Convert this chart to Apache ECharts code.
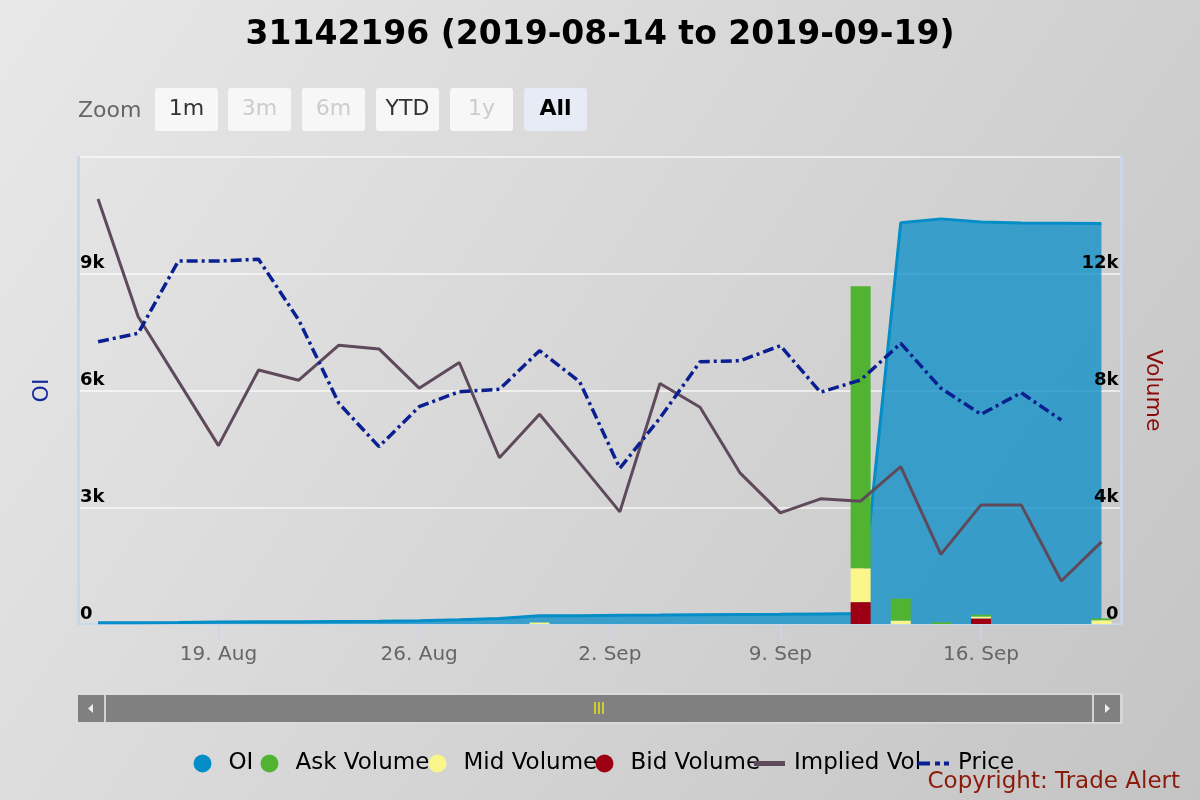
<!DOCTYPE html>
<html>
<head>
<meta charset="utf-8">
<script src="https://cdn.jsdelivr.net/npm/echarts@6/dist/echarts.min.js"></script>
<style>html,body{margin:0;padding:0;}#c{width:1200px;height:800px;}</style>
</head>
<body>
<div id="c"></div>
<script>
// ---- data ----
const dates = ['2019-08-14','2019-08-15','2019-08-16','2019-08-19','2019-08-20','2019-08-21','2019-08-22','2019-08-23',
  '2019-08-26','2019-08-27','2019-08-28','2019-08-29','2019-08-30','2019-09-03','2019-09-04','2019-09-05','2019-09-06',
  '2019-09-09','2019-09-10','2019-09-11','2019-09-12','2019-09-13','2019-09-16','2019-09-17','2019-09-18','2019-09-19'];
const oi = [30,35,40,50,55,60,65,70,85,110,140,210,215,225,230,240,245,250,260,270,10310,10410,10330,10305,10300,10290];
const askVolume = [0,0,0,0,0,0,0,0,0,0,0,0,0,0,0,0,0,0,0,9660,750,60,60,0,0,60];
const midVolume = [0,0,0,0,0,0,0,0,0,0,0,50,0,0,0,0,0,0,0,1160,120,0,70,0,0,130];
const bidVolume = [0,0,0,0,0,0,0,0,0,0,0,0,0,0,0,0,0,0,0,750,0,0,190,0,0,0];
const impliedVol = [91.0,65.8,52.0,38.2,54.4,52.2,59.7,58.9,50.5,56.0,35.6,44.9,34.5,24.0,51.5,46.4,32.3,23.8,26.8,26.3,33.7,14.9,25.5,25.5,9.2,17.6];
const price = [24.18,24.90,31.09,31.09,31.24,26.04,18.90,15.19,18.61,19.90,20.10,23.41,20.75,13.34,17.64,22.47,22.55,23.84,19.85,20.90,24.04,20.19,17.96,19.81,17.47];
// positions (in trading-day index) of the date ticks; 2 Sep falls between 30 Aug and 3 Sep
const tickValues = [3, 8, 12.75, 17, 22];
const tickLabels = ['19. Aug','26. Aug','2. Sep','9. Sep','16. Sep'];
const oiTicks = {min:0, max:12000, interval:3000};
const volTicks = {min:0, max:16000, interval:4000};

const kfmt = v => v === 0 ? '0' : (v/1000) + 'k';
const FONT = 'DejaVu Sans';

const chart = echarts.init(document.getElementById('c'), null, {renderer:'canvas'});

function legendItem(name, left, top, w, h, icon, padLeft){
  return {data:[{name:name, icon:icon}], left:left, top:top, itemWidth:w, itemHeight:h, itemGap:0, padding:0,
    selectedMode:false, textStyle:{fontSize:23, color:'#000', fontFamily:FONT, padding:[0,0,0,padLeft||0]}};
}

const buttons = [['1m',155,'#f7f7f7','#333','normal'],['3m',228,'#f7f7f7','#cccccc','normal'],['6m',302,'#f7f7f7','#cccccc','normal'],
  ['YTD',376,'#f7f7f7','#333','normal'],['1y',450,'#f7f7f7','#cccccc','normal'],['All',524,'#e6ebf5','#000','bold']];
const graphics = [
  {type:'text', left:78, top:100, style:{text:'Zoom', fill:'#666', font:'22px '+FONT}}
];
buttons.forEach(b=>{
  graphics.push({type:'rect', shape:{x:b[1], y:88, width:63, height:43, r:3}, style:{fill:b[2]}});
  graphics.push({type:'text', x:b[1]+31.5, y:109.5, style:{text:b[0], fill:b[3], font:b[4]+' 22px '+FONT, align:'center', verticalAlign:'middle', textAlign:'center', textVerticalAlign:'middle'}});
});
graphics.push(
  {type:'rect', shape:{x:77, y:694, width:1045, height:29}, style:{fill:'#d2d2d2', stroke:'#e2e2e2', lineWidth:1}},
  {type:'rect', shape:{x:78, y:695, width:26, height:27}, style:{fill:'#808080'}},
  {type:'rect', shape:{x:106, y:695, width:986, height:27}, style:{fill:'#808080'}},
  {type:'rect', shape:{x:1094, y:695, width:26, height:27}, style:{fill:'#808080'}},
  {type:'polygon', shape:{points:[[88,708.5],[93,704],[93,713]]}, style:{fill:'#eeeeee'}},
  {type:'polygon', shape:{points:[[1110,708.5],[1105,704],[1105,713]]}, style:{fill:'#eeeeee'}},
  {type:'line', shape:{x1:595,y1:702,x2:595,y2:714}, style:{stroke:'#ffff00', lineWidth:1.2}},
  {type:'line', shape:{x1:599,y1:702,x2:599,y2:714}, style:{stroke:'#ffff00', lineWidth:1.2}},
  {type:'line', shape:{x1:603,y1:702,x2:603,y2:714}, style:{stroke:'#ffff00', lineWidth:1.2}},
  {type:'text', right:20, top:771, style:{text:'Copyright: Trade Alert', fill:'#8b1a0a', font:'23px '+FONT}}
);

const priceIcon = 'path://M0,0h12v4h-12z M17,0h5v4h-5z M26,0h5v4h-5z';

const option = {
  animation:false,
  backgroundColor:{type:'linear', x:0, y:0, x2:1, y2:1, colorStops:[{offset:0,color:'#e8e8e8'},{offset:1,color:'#c4c4c4'}]},
  title:{text:'31142196 (2019-08-14 to 2019-09-19)', left:'center', top:19, padding:0,
    textStyle:{fontFamily:FONT, fontSize:33, fontWeight:'bold', color:'#000'}},
  legend:[
    legendItem('OI',193.5,752,42,18,'circle'), legendItem('Ask Volume',260.5,752,42,18,'circle'),
    legendItem('Mid Volume',428.5,752,42,18,'circle'), legendItem('Bid Volume',595.5,752,42,18,'circle'),
    legendItem('Implied Vol',754,752,31,5,'rect',4), legendItem('Price',918,752,31,4,priceIcon,4)
  ],
  grid:{left:78, right:78.5, top:157, bottom:176, containLabel:false},
  xAxis:[
    {type:'category', data:dates, boundaryGap:true, position:'bottom',
      axisLine:{show:true, onZero:false, lineStyle:{color:'#ccd6eb', width:2}},
      axisTick:{show:false}, axisLabel:{show:false}, splitLine:{show:false}},
    {type:'value', min:-0.5, max:25.5, position:'bottom',
      axisLine:{show:false, onZero:false},
      axisTick:{show:true, customValues:tickValues, length:17, lineStyle:{color:'#ccd6eb', width:1.5}},
      axisLabel:{customValues:tickValues, formatter:v=>tickLabels[tickValues.indexOf(v)] || '', color:'#666', fontSize:20, fontFamily:FONT, margin:21},
      splitLine:{show:false}}
  ],
  yAxis:[
    {type:'value', position:'left', min:oiTicks.min, max:oiTicks.max, interval:oiTicks.interval,
      name:'OI', nameLocation:'middle', nameGap:25, nameRotate:90,
      nameTextStyle:{color:'#14299a', fontSize:22, fontFamily:FONT},
      axisLine:{show:true, onZero:false, lineStyle:{color:'#ccd6eb', width:3}},
      axisTick:{show:false},
      axisLabel:{inside:true, formatter:kfmt, showMaxLabel:false, color:'#000', fontWeight:'bold', fontSize:18, fontFamily:FONT,
        verticalAlign:'bottom', margin:2, lineHeight:20},
      splitLine:{show:true, lineStyle:{color:'rgba(255,255,255,0.6)', width:2}}},
    {type:'value', position:'right', min:volTicks.min, max:volTicks.max, interval:volTicks.interval, z:10,
      name:'Volume', nameLocation:'middle', nameGap:20, nameRotate:-90,
      nameTextStyle:{color:'#8b0a0a', fontSize:22, fontFamily:FONT},
      axisLine:{show:true, onZero:false, lineStyle:{color:'#ccd6eb', width:3}},
      axisTick:{show:false},
      axisLabel:{inside:true, formatter:kfmt, showMaxLabel:false, color:'#000', fontWeight:'bold', fontSize:18, fontFamily:FONT,
        verticalAlign:'bottom', margin:3, lineHeight:20},
      splitLine:{show:false}},
    {type:'value', min:0, max:100, show:false},
    {type:'value', min:0, max:40, show:false}
  ],
  series:[
    {name:'OI', type:'line', xAxisIndex:0, yAxisIndex:0, data:oi, symbol:'none', z:1,
      lineStyle:{color:'#058DC7', width:3}, itemStyle:{color:'#058DC7'}, areaStyle:{color:'#058DC7', opacity:0.75}},
    {name:'Bid Volume', type:'bar', stack:'vol', xAxisIndex:0, yAxisIndex:1, data:bidVolume, barWidth:20, z:2, itemStyle:{color:'#9C0012'}},
    {name:'Mid Volume', type:'bar', stack:'vol', xAxisIndex:0, yAxisIndex:1, data:midVolume, barWidth:20, z:2, itemStyle:{color:'#FBF68A'}},
    {name:'Ask Volume', type:'bar', stack:'vol', xAxisIndex:0, yAxisIndex:1, data:askVolume, barWidth:20, z:2, itemStyle:{color:'#50B432'}},
    {name:'Implied Vol', type:'line', xAxisIndex:0, yAxisIndex:2, data:impliedVol, symbol:'none', z:3,
      lineStyle:{color:'#5f4a5c', width:3}, itemStyle:{color:'#5f4a5c'}},
    {name:'Price', type:'line', xAxisIndex:0, yAxisIndex:3, data:price, symbol:'none', z:4,
      lineStyle:{color:'#0a2090', width:3.5, type:[11,4,3,4]}, itemStyle:{color:'#0a2090'}}
  ],
  graphic:graphics
};
chart.setOption(option);
</script>
</body>
</html>
